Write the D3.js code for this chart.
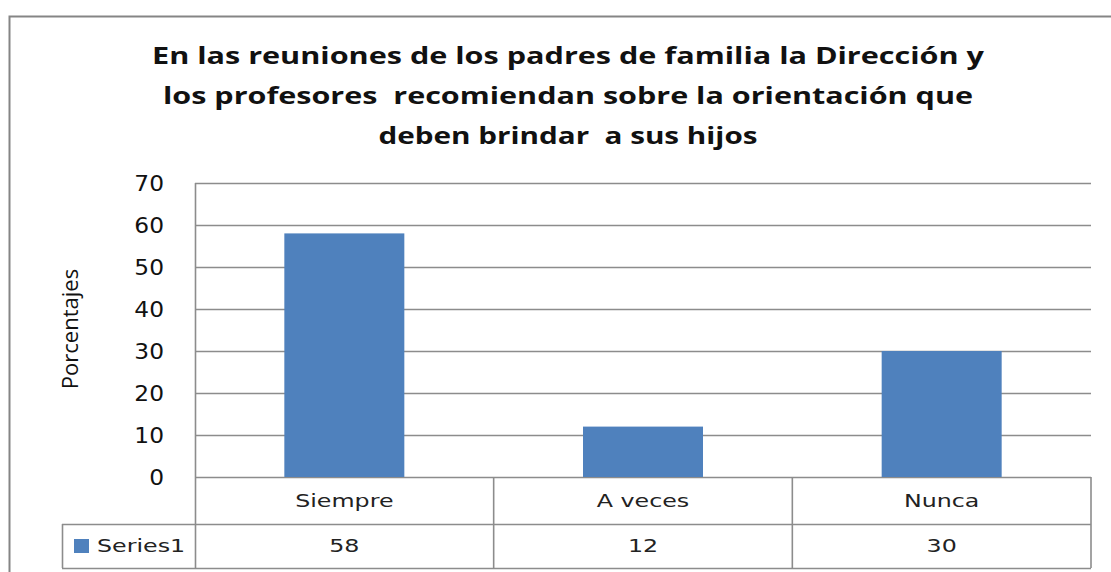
<!DOCTYPE html>
<html>
<head>
<meta charset="utf-8">
<script src="https://cdn.jsdelivr.net/npm/d3@7"></script>
<style>
  body { margin: 0; background: #fff; }
  svg { display: block; }
</style>
</head>
<body>
<div class="chart"></div>
<script>
const categories = ['Siempre', 'A veces', 'Nunca'];
const seriesName = 'Series1';
const values = [58, 12, 30];
const yTicks = [0, 10, 20, 30, 40, 50, 60, 70];
const titleLines = [
  'En las reuniones de los padres de familia la Dirección y',
  'los profesores  recomiendan sobre la orientación que',
  'deben brindar  a sus hijos'
];
const titleWidths = [832, 810, 379];
const yLabel = 'Porcentajes';

const w = 1111;
const h = 572;
const plot = { left: 195, right: 1091, top: 183, bottom: 477 };
const rowH = { cat: 47, val: 44 };
const tableLeft = 62;
const barColor = '#4f81bd';
const lineColor = '#8c8c8c';
const cellFont = 'DejaVu Sans, Verdana, sans-serif';
const cellStretch = 1.32;   // table text is drawn wide in the original
const tickStretch = 1.06;

const svg = d3.select('.chart')
  .append('svg')
  .attr('width', w)
  .attr('height', h);

// outer chart frame
svg.append('rect')
  .attr('x', 9.5)
  .attr('y', 16.5)
  .attr('width', 1200)
  .attr('height', 700)
  .attr('fill', '#fff')
  .attr('stroke', '#858585')
  .attr('stroke-width', 2);

const xScale = d3.scaleBand()
  .domain(categories)
  .range([plot.left, plot.right])
  .padding(0);

const yScale = d3.scaleLinear()
  .domain([0, 70])
  .range([plot.bottom, plot.top]);

// gridlines
svg.append('g')
  .selectAll('line')
  .data(yTicks)
  .enter()
  .append('line')
  .attr('x1', plot.left)
  .attr('x2', plot.right)
  .attr('y1', d => Math.round(yScale(d)) + 0.5)
  .attr('y2', d => Math.round(yScale(d)) + 0.5)
  .attr('stroke', lineColor)
  .attr('stroke-width', 1.6);

// bars
const barW = 120;
svg.append('g')
  .selectAll('rect')
  .data(values)
  .enter()
  .append('rect')
  .attr('x', (d, i) => xScale(categories[i]) + xScale.bandwidth() / 2 - barW / 2)
  .attr('y', d => yScale(d))
  .attr('width', barW)
  .attr('height', d => plot.bottom - yScale(d))
  .attr('fill', barColor);

// y axis
const tickPad = 31;
const yAxis = d3.axisLeft(yScale)
  .tickValues(yTicks)
  .tickSize(0)
  .tickPadding(tickPad);

const gy = svg.append('g')
  .attr('transform', `translate(${plot.left}, 0)`)
  .call(yAxis);
gy.select('.domain').remove();
gy.selectAll('text')
  .attr('font-family', cellFont)
  .attr('font-size', 22)
  .attr('fill', '#111')
  .attr('x', -tickPad / tickStretch)
  .attr('transform', `scale(${tickStretch},1)`)
  .attr('dy', '0.36em');

// table
const tBottom = plot.bottom + rowH.cat + rowH.val;
const table = svg.append('g')
  .attr('stroke', lineColor)
  .attr('stroke-width', 1.6)
  .attr('fill', 'none');

table.append('line')
  .attr('x1', plot.left + 0.5).attr('x2', plot.left + 0.5)
  .attr('y1', plot.top).attr('y2', tBottom);

table.selectAll('.div')
  .data(categories)
  .enter()
  .append('line')
  .attr('x1', d => xScale(d) + xScale.bandwidth())
  .attr('x2', d => xScale(d) + xScale.bandwidth())
  .attr('y1', plot.bottom)
  .attr('y2', tBottom);

table.append('line')
  .attr('x1', tableLeft).attr('x2', plot.right)
  .attr('y1', plot.bottom + rowH.cat + 0.5).attr('y2', plot.bottom + rowH.cat + 0.5);
table.append('line')
  .attr('x1', tableLeft).attr('x2', plot.right)
  .attr('y1', tBottom + 0.5).attr('y2', tBottom + 0.5);
table.append('line')
  .attr('x1', tableLeft + 0.5).attr('x2', tableLeft + 0.5)
  .attr('y1', plot.bottom + rowH.cat).attr('y2', tBottom);

function cellText(sel) {
  sel.attr('dy', '0.36em')
    .attr('font-family', cellFont)
    .attr('font-size', 18)
    .attr('fill', '#222');
}

svg.append('g')
  .selectAll('text')
  .data(categories)
  .enter()
  .append('text')
  .attr('transform', d => `translate(${xScale(d) + xScale.bandwidth() / 2}, ${plot.bottom + rowH.cat / 2}) scale(${cellStretch},1)`)
  .attr('text-anchor', 'middle')
  .call(cellText)
  .text(d => d);

svg.append('g')
  .selectAll('text')
  .data(values)
  .enter()
  .append('text')
  .attr('transform', (d, i) => `translate(${xScale(categories[i]) + xScale.bandwidth() / 2}, ${plot.bottom + rowH.cat + rowH.val / 2}) scale(${cellStretch},1)`)
  .attr('text-anchor', 'middle')
  .call(cellText)
  .text(d => d);

// legend key in table
svg.append('rect')
  .attr('x', 74)
  .attr('y', plot.bottom + rowH.cat + rowH.val / 2 - 7)
  .attr('width', 15)
  .attr('height', 14)
  .attr('fill', barColor);

svg.append('text')
  .attr('transform', `translate(97, ${plot.bottom + rowH.cat + rowH.val / 2}) scale(${cellStretch},1)`)
  .call(cellText)
  .text(seriesName);

// title
svg.append('g')
  .selectAll('text')
  .data(titleLines)
  .enter()
  .append('text')
  .attr('x', 568)
  .attr('y', (d, i) => 64 + i * 40)
  .attr('text-anchor', 'middle')
  .attr('font-family', 'Open Sans, sans-serif')
  .attr('font-weight', 700)
  .attr('font-size', 24)
  .attr('fill', '#111')
  .attr('textLength', (d, i) => titleWidths[i])
  .attr('lengthAdjust', 'spacingAndGlyphs')
  .style('white-space', 'pre')
  .text(d => d);

// y label
svg.append('text')
  .attr('transform', 'translate(78, 329) rotate(-90)')
  .attr('text-anchor', 'middle')
  .attr('font-family', 'Open Sans, sans-serif')
  .attr('font-weight', 500)
  .attr('font-size', 22)
  .attr('fill', '#111')
  .text(yLabel);
</script>
</body>
</html>
